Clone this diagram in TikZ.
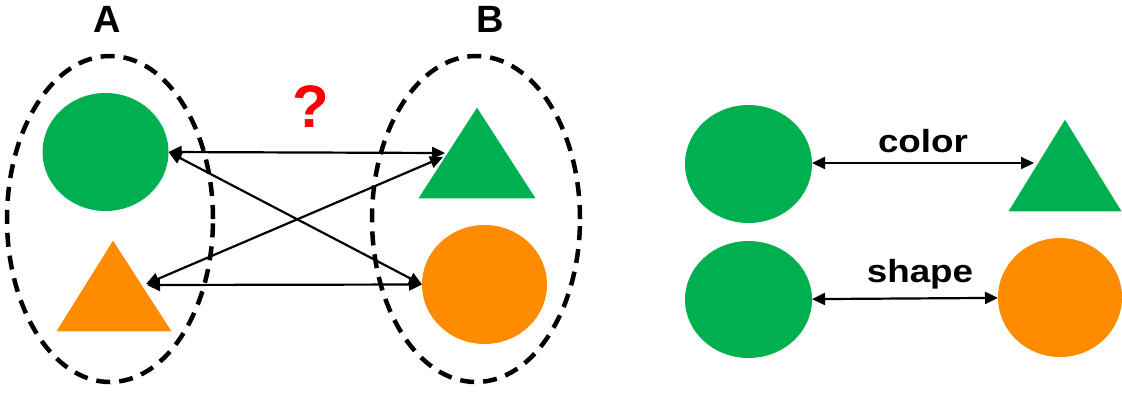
\documentclass[tikz,border=0pt]{standalone}
\usepackage{fontspec}
\setmainfont{Liberation Sans}
\usetikzlibrary{shapes.geometric,arrows.meta}
\definecolor{shgreen}{HTML}{00B050}
\definecolor{shorange}{HTML}{FF8C00}
\definecolor{qred}{HTML}{FF0000}
\begin{document}
\begin{tikzpicture}[x=1pt,y=-1pt,
  blob/.style={ellipse,inner sep=0pt,outer sep=0pt,draw=none,minimum width=#1},
  grp/.style={ellipse,inner sep=0pt,draw=black,line width=4.5pt,dash pattern=on 14pt off 9pt},
  tri/.style={draw=white,line width=1.5pt,line join=miter},
  link/.style={line width=2.2pt,{Triangle[length=13pt,width=12pt]}-{Triangle[length=13pt,width=12pt]}},
  head/.style={font=\fontsize{38}{40}\selectfont\bfseries,inner sep=0pt,anchor=base},
  lbl/.style={font=\fontsize{32}{34}\selectfont\bfseries,inner sep=0pt,anchor=base}]
\useasboundingbox (0,0) rectangle (1122,392);
% group labels
\node[head] (labA) at (107,32) {A};
\node[head] (labB) at (490,32) {B};
\node[lbl,font=\fontsize{60}{62}\selectfont\bfseries,text=qred] (qm) at (311,127) {?};
% dashed groups
\node[grp,minimum width=206pt,minimum height=326pt] (grpA) at (110,219) {};
\node[grp,minimum width=208pt,minimum height=326pt] (grpB) at (476,219) {};
% group A
\node[blob=126pt,minimum height=118pt,fill=shgreen] (gA) at (105.5,152) {};
\filldraw[tri,fill=shorange] (113,239) -- (173,332) -- (55,332) -- cycle;
\coordinate (oA) at (146,284);
\coordinate (oA2) at (147,285);
% group B
\filldraw[tri,fill=shgreen] (477,106) -- (537,199) -- (417,199) -- cycle;
\coordinate (gB) at (445,153);
\coordinate (gB2) at (443,157);
\node[blob=125pt,minimum height=119pt,fill=shorange] (oB) at (484.5,284.5) {};
% links
\draw[link] (gA.east) -- (gB);
\draw[link] (gA.east) -- (oB.west);
\draw[link] (oA) -- (gB2);
\draw[link] (oA2) -- (oB.west);
% right side
\node[blob=127pt,minimum height=118pt,fill=shgreen] (c1) at (748.5,164) {};
\filldraw[tri,fill=shgreen] (1065,118) -- (1123,212) -- (1007,212) -- cycle;
\coordinate (t1) at (1034,163);
\draw[link] (c1.east |- t1) -- (t1);
\node[lbl] (colorlbl) at (923,152) {\scalebox{1.15}[1]{color}};
\node[blob=127pt,minimum height=117pt,fill=shgreen] (c2) at (748.5,299.5) {};
\node[blob=124pt,minimum height=119pt,fill=shorange] (c3) at (1060,297.5) {};
\draw[link] (c2) -- (c3);
\node[lbl] (shapelbl) at (920,282) {\scalebox{1.15}[1]{shape}};
\end{tikzpicture}
\end{document}
